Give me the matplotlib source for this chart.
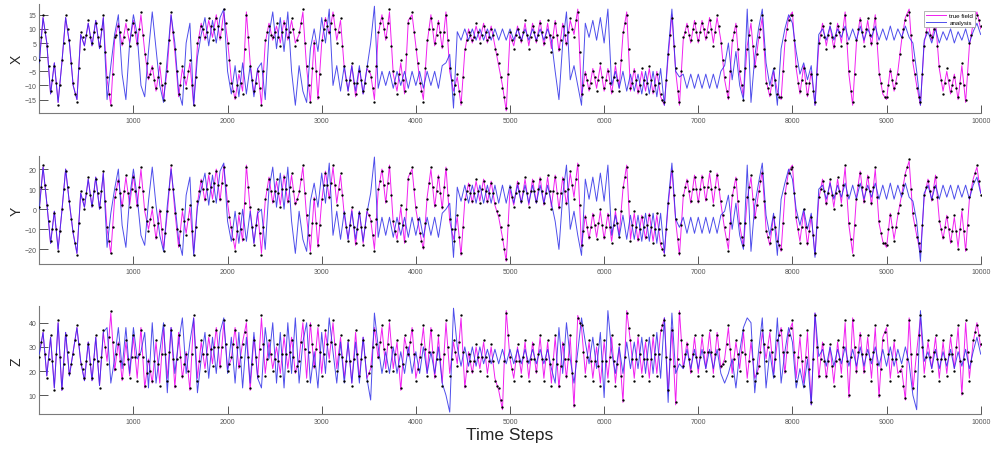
import numpy as np
import matplotlib
matplotlib.use("Agg")
import matplotlib.pyplot as plt

plt.rcParams['font.family'] = ['Liberation Sans', 'DejaVu Sans']

STEP = 40  # time steps between listed samples

x_true = [-2, 14, 5, -13, -2, -16, -2, 14, 5, -10, -15, 8, 4, 12, 4, 13, 3, 14, -8, -17, 6, 12, 4, 12, 5,
          13, 4, 15, 2, -8, -3, -12, -3, -15, -4, 15, 2, -14, -4, -10, -2, -17, 4, 12, 6, 13, 7, 15, 6, 16,
          6, -8, -15, -6, -12, 16, -2, -13, -4, -17, 5, 12, 6, 11, 5, 13, 6, 13, 5, 8, 16, -4, -16, 6, -15,
          5, 14, 8, 16, 6, 13, -4, -12, -3, -14, -4, -13, -4, -6, -15, 8, 15, 6, 16, -6, -12, -2, -13, 13, 15,
          4, -8, -15, 5, 15, 4, 13, 3, 16, -5, -12, -7, -17, 2, 10, 5, 11, 6, 12, 5, 11, 4, -3, -10, -19,
          8, 4, 11, 5, 12, 4, 12, 5, 13, 4, 12, 3, 13, 2, 12, 4, 13, 8, 17, -14, -5, -12, -4, -11, -3,
          -12, -4, -13, -3, -11, 8, 16, -12, -4, -13, -5, -12, -4, -13, -5, -14, -17, 0, 15, -5, -17, 6, 12, 5, 13,
          5, 13, 6, 14, 5, 14, 6, -8, -15, 5, 12, -6, -14, 4, 12, -4, 6, 14, -8, -14, -5, -12, -15, 5, 14,
          16, -4, -13, -3, -14, -5, -17, 4, 12, 4, 11, 3, 12, 5, 16, -6, -17, 5, 14, 5, 13, 4, 15, -5, -13,
          -15, -4, -12, -5, 6, 14, 17, -2, -10, -17, 5, 12, 6, 13, -4, -12, -5, -13, -6, -15, -3, -16, 4, 12, 16, 10]

x_analysis = [-2, 14, 5, -13, -2, -16, -2, 14, 5, -10, -15, 8, 4, 12, 4, 13, 3, 14, -15, -3, 8, 15, -6, -15, 5,
              15, 8, -10, -14, 2, 16, 3, -10, -16, 0, 15, 5, -12, -17, 5, 12, -17, 0, 8, 14, 4, 13, 5, 14, 17,
              -5, -13, -3, -14, -2, -13, -3, -14, -4, -2, -15, 8, 16, 3, 14, 2, 16, -5, -17, -3, -12, -16, 3, 10, 2,
              14, 5, 17, -10, -3, -12, -3, -12, -3, -12, -3, -13, -4, 5, 18, -11, -5, -10, -5, -11, -5, -10, -5, -11, -5,
              -10, -5, -11, -5, -10, -5, -11, -3, -2, 1, -18, 9, 6, 10, 6, 10, 6, 10, 6, 10, 6, 10, 6, 10, 6,
              10, 6, 10, 6, 10, 6, 10, 6, 10, 6, 10, 6, -5, -15, 5, 16, -8, -3, -10, -17, 12, 7, 13, 6, 14,
              5, 17, -10, -5, -11, -5, -12, -6, -12, -6, -13, -5, -13, -5, -14, -4, -17, 2, 17, -5, -7, -6, -11, -6, -11,
              -6, -11, -6, -11, -6, -11, -5, -3, 5, -8, 2, -10, -15, 17, -16, 0, 10, 17, -2, -10, -4, -17, 3, 10, 15,
              12, 2, -6, -2, -8, -3, -17, 8, 10, 6, 11, 6, 10, 7, 11, 6, 10, 6, 11, 6, 10, 7, 11, 6, 10,
              6, 11, 6, 10, 7, 11, 7, 5, -5, -17, 6, 9, 5, 10, 5, 9, 6, 10, 5, 9, 6, 10, 5, 9, 12, 8]

x_obs = [-1, 15, 4, -12, -3, -17, -1, 15, 6, -9, -16, 9, 3, 13, 5, 12, 4, 15, -7, -17, 7, 11, 5, 13, 4,
         12, 5, 16, 1, -7, -4, -11, -2, -15, -5, 16, 3, -13, -3, -11, -1, -17, 5, 11, 7, 14, 6, 14, 7, 17,
         5, -9, -14, -5, -13, 15, -3, -12, -5, -17, 6, 11, 7, 12, 4, 12, 7, 14, 4, 9, 17, -3, -16, 5, -14,
         6, 13, 9, 15, 5, 14, -3, -13, -2, -13, -5, -12, -3, -7, -16, 9, 14, 7, 17, -5, -13, -1, -12, 12, 16,
         3, -9, -16, 6, 14, 5, 12, 4, 15, -4, -13, -6, -16, 3, 9, 6, 12, 5, 11, 6, 10, 3, -2, -11, -18,
         9, 3, 10, 6, 13, 3, 11, 6, 12, 5, 13, 2, 12, 3, 11, 5, 14, 7, 16, -13, -6, -11, -5, -12, -2,
         -11, -5, -12, -2, -12, 9, 15, -11, -5, -12, -4, -13, -3, -12, -6, -13, -16, 1, 14, -4, -16, 7, 11, 6, 12,
         6, 12, 7, 13, 4, 15, 5, -7, -14, 6, 11, -5, -15, 3, 13, -3, 7, 15, -9, -13, -4, -13, -14, 6, 13,
         15, -3, -12, -4, -13, -6, -16, 5, 11, 3, 12, 4, 11, 4, 15, -5, -16, 6, 13, 4, 14, 5, 14, -6, -12,
         -14, -5, -11, -6, 7, 13, 16, -1, -11, -16, 4, 13, 7, 12, -3, -13, -4, -12, -7, -14, -2, -15, 5, 11, 15, 11]

x_obs_mid = [7, 9, -3, -8, -9, -10, 5, 10, -2, -13, -4, 7, 8, 7, 9, 7, 10, 2, -13, -6, 8, 9, 7, 10, 8,
             9, 10, 8, -2, -6, -8, -7, -10, -9, 6, 9, -5, -10, -7, -5, -10, -7, 7, 10, 9, 11, 10, 11, 10, 12,
             -1, -12, -10, -9, 3, 7, -8, -9, -11, -5, 9, 8, 9, 7, 9, 10, 9, 10, 6, 12, 5, -10, -4, -5, -6,
             10, 11, 12, 10, 9, 4, -8, -8, -9, -9, -8, -9, -5, -11, -3, 12, 10, 12, 4, -9, -6, -8, 1, 14, 9,
             -2, -12, -4, 10, 10, 8, 9, 9, 6, -8, -10, -12, -7, 6, 8, 7, 9, 8, 9, 7, 8, 1, -7, -14, -6,
             6, 8, 7, 9, 8, 7, 9, 8, 9, 7, 8, 7, 8, 6, 8, 9, 10, 13, 2, -10, -8, -9, -7, -8, -7,
             -8, -9, -7, -8, -1, 12, 3, -9, -8, -10, -8, -9, -8, -10, -9, -15, -8, 8, 4, -12, -5, 9, 8, 10, 9,
             9, 10, 9, 10, 9, 11, -1, -12, -5, 9, 3, -10, -4, 8, 4, 1, 10, 3, -11, -10, -8, -14, -5, 10, 15,
             6, -9, -8, -9, -9, -12, -6, 8, 7, 8, 7, 8, 9, 10, 5, -12, -6, 10, 9, 10, 8, 10, 5, -9, -14,
             -10, -8, -9, 1, 10, 15, 8, -6, -14, -6, 9, 8, 10, 4, -8, -9, -8, -10, -11, -9, -10, -6, 8, 14, 13]

y_true = [0, 21, 3, -17, -1, -20, -1, 20, 3, -12, -22, 8, 1, 15, 1, 16, 0, 18, -10, -22, 5, 15, 1, 16, 2,
          17, 1, 20, -1, -10, 0, -15, 0, -20, -2, 21, -1, -19, -1, -12, 1, -22, 3, 15, 4, 17, 5, 20, 4, 22,
          3, -10, -20, -3, -16, 22, 0, -17, -1, -22, 4, 16, 3, 14, 2, 17, 3, 17, 2, 8, 21, -4, -21, 6, -19,
          4, 19, 5, 21, 3, 17, -3, -15, 0, -18, -1, -17, -1, -5, -20, 9, 20, 3, 22, -7, -15, 1, -17, 16, 20,
          0, -11, -20, 6, 20, 1, 17, 0, 21, -6, -15, -4, -23, 4, 13, 3, 14, 4, 15, 3, 14, 2, -4, -14, -26,
          10, 2, 14, 3, 15, 2, 15, 3, 16, 2, 16, 1, 17, 0, 16, 2, 18, 6, 23, -19, -3, -15, -2, -14, -1,
          -15, -2, -16, -1, -13, 10, 22, -15, -2, -16, -3, -15, -2, -16, -3, -18, -22, 2, 20, -6, -23, 6, 15, 3, 17,
          3, 17, 4, 18, 3, 18, 3, -10, -20, 6, 16, -8, -19, 5, 16, -5, 8, 19, -10, -18, -3, -15, -21, 7, 19,
          22, -5, -16, -1, -18, -3, -23, 5, 15, 2, 14, 1, 15, 3, 21, -8, -22, 6, 19, 3, 17, 2, 20, -7, -16,
          -19, -2, -15, -3, 7, 18, 24, -3, -13, -22, 6, 15, 4, 17, -5, -15, -3, -17, -4, -19, -1, -21, 5, 15, 21, 8]

y_analysis = [0, 21, 3, -17, -1, -20, -1, 20, 3, -12, -22, 8, 1, 15, 1, 16, 0, 18, -19, -2, 10, 20, -8, -19, 6,
              20, 6, -13, -18, 4, 21, 2, -13, -21, 2, 20, 3, -15, -23, 7, 16, -23, 1, 10, 18, 2, 17, 3, 19, 23,
              -6, -16, -1, -17, 0, -16, -1, -17, -2, 0, -20, 10, 21, 1, 18, 0, 21, -6, -22, -1, -15, -21, 4, 13, 1,
              18, 3, 23, -13, -1, -15, -1, -15, -1, -15, -1, -16, -2, 8, 26, -14, -4, -13, -4, -14, -4, -13, -4, -14, -4,
              -13, -4, -14, -4, -13, -4, -14, -2, 0, 3, -24, 11, 4, 12, 3, 12, 3, 12, 3, 12, 3, 12, 3, 12, 3,
              12, 3, 12, 3, 12, 3, 12, 3, 12, 3, 12, 3, -6, -20, 7, 22, -10, -1, -13, -23, 15, 5, 16, 4, 18,
              4, 22, -13, -3, -14, -3, -15, -3, -15, -3, -16, -2, -16, -2, -17, -2, -22, 4, 23, -5, -9, -4, -12, -4, -12,
              -4, -12, -4, -12, -4, -12, -3, -1, 7, -10, 3, -13, -20, 22, -21, 2, 13, 23, -3, -13, -2, -23, 5, 13, 20,
              15, 0, -8, 0, -10, -2, -24, 10, 12, 5, 13, 5, 12, 6, 13, 5, 12, 5, 13, 5, 12, 6, 13, 5, 12,
              5, 13, 5, 12, 6, 13, 6, 4, -6, -26, 8, 12, 5, 12, 5, 12, 6, 12, 5, 12, 6, 12, 5, 12, 16, 8]

y_obs = [1, 22, 2, -16, -2, -21, 0, 19, 4, -11, -23, 9, 0, 16, 2, 15, 1, 19, -9, -22, 6, 14, 2, 17, 1,
         16, 2, 21, 0, -11, 1, -14, -1, -21, -1, 22, -2, -18, 0, -13, 2, -23, 4, 14, 5, 18, 4, 19, 5, 21,
         4, -9, -21, -2, -15, 21, 1, -18, 0, -23, 5, 15, 4, 15, 1, 16, 4, 18, 3, 9, 22, -3, -22, 5, -18,
         5, 18, 6, 22, 2, 18, -2, -16, 1, -17, -2, -18, 0, -6, -21, 10, 19, 4, 21, -6, -16, 2, -16, 15, 21,
         1, -12, -19, 5, 21, 2, 16, 1, 20, -5, -16, -3, -22, 5, 12, 4, 15, 3, 14, 4, 13, 3, -3, -15, -25,
         11, 1, 13, 4, 16, 1, 14, 4, 15, 3, 17, 0, 16, 1, 15, 3, 19, 5, 22, -18, -4, -14, -3, -15, 0,
         -14, -3, -17, 0, -14, 11, 21, -16, -1, -15, -4, -14, -3, -17, -2, -17, -23, 3, 19, -5, -22, 7, 14, 4, 16,
         4, 16, 5, 19, 2, 17, 4, -9, -21, 7, 15, -7, -18, 6, 17, -4, 9, 18, -11, -17, -4, -16, -20, 8, 18,
         21, -4, -17, 0, -17, -4, -22, 6, 14, 3, 15, 0, 16, 2, 22, -7, -23, 5, 18, 4, 16, 3, 21, -6, -17,
         -18, -3, -16, -2, 8, 17, 25, -2, -14, -21, 7, 14, 5, 16, -6, -14, -4, -16, -3, -20, 0, -20, 6, 14, 22, 7]

y_obs_mid = [11, 12, -6, -10, -10, -11, 10, 11, -5, -17, -7, 5, 8, 7, 9, 8, 9, 4, -16, -9, 10, 8, 9, 8, 10,
             9, 11, 9, -6, -5, -8, -7, -10, -12, 10, 10, -10, -11, -6, -5, -11, -9, 9, 10, 10, 11, 13, 12, 13, 12,
             -4, -15, -11, -10, 3, 11, -9, -8, -12, -9, 10, 9, 9, 8, 10, 10, 11, 9, 5, 15, 8, -13, -7, -7, -8,
             12, 12, 13, 12, 10, 7, -9, -8, -9, -10, -9, -9, -3, -13, -5, 14, 12, 13, 7, -11, -7, -8, 0, 18, 10,
             -5, -16, -7, 13, 11, 9, 8, 11, 7, -10, -10, -14, -9, 9, 8, 8, 9, 10, 9, 8, 8, -1, -9, -20, -8,
             6, 8, 9, 9, 8, 9, 9, 10, 9, 8, 9, 9, 8, 8, 9, 10, 12, 15, 2, -11, -9, -9, -8, -7, -8,
             -9, -9, -8, -7, -1, 16, 4, -8, -9, -10, -9, -8, -9, -10, -10, -20, -10, 11, 7, -15, -8, 11, 9, 10, 10,
             10, 11, 11, 10, 11, 10, -3, -15, -7, 11, 4, -14, -7, 11, 5, 2, 14, 4, -14, -10, -9, -18, -7, 13, 20,
             8, -10, -9, -9, -11, -13, -9, 10, 9, 8, 7, 8, 9, 12, 7, -15, -8, 12, 11, 10, 9, 11, 6, -12, -17,
             -10, -9, -9, 2, 12, 21, 10, -8, -17, -8, 11, 9, 11, 6, -10, -9, -10, -11, -11, -10, -11, -8, 10, 18, 14]

z_true = [27, 36, 18, 34, 13, 40, 12, 36, 18, 28, 38, 24, 16, 32, 16, 34, 14, 36, 24, 44, 20, 32, 16, 32, 18,
          34, 17, 38, 13, 25, 15, 32, 15, 38, 17, 38, 13, 36, 17, 28, 12, 42, 17, 32, 21, 34, 23, 38, 21, 40,
          21, 25, 38, 21, 32, 40, 12, 34, 17, 42, 19, 32, 21, 30, 19, 34, 21, 34, 19, 25, 40, 17, 40, 21, 38,
          19, 36, 25, 40, 21, 34, 17, 32, 15, 36, 17, 34, 17, 21, 38, 25, 38, 21, 40, 21, 32, 12, 34, 26, 38,
          17, 25, 38, 19, 38, 17, 34, 15, 40, 19, 32, 23, 42, 13, 28, 19, 30, 21, 32, 19, 30, 17, 12, 4, 45,
          25, 17, 30, 19, 32, 17, 32, 19, 34, 17, 32, 15, 34, 13, 32, 17, 34, 5, 43, 38, 19, 32, 17, 30, 15,
          32, 17, 34, 15, 30, 7, 45, 32, 17, 34, 19, 32, 17, 34, 19, 36, 42, 11, 38, 6, 45, 21, 32, 19, 34,
          19, 34, 21, 36, 19, 36, 21, 25, 38, 19, 32, 21, 36, 17, 32, 17, 21, 36, 25, 36, 19, 32, 38, 19, 36,
          40, 17, 34, 15, 36, 6, 44, 17, 32, 17, 30, 15, 32, 19, 40, 9, 42, 19, 36, 19, 34, 17, 38, 9, 34,
          38, 17, 32, 19, 21, 8, 42, 12, 28, 42, 19, 32, 21, 34, 17, 32, 19, 34, 21, 38, 10, 40, 17, 32, 40, 30]

z_analysis = [27, 36, 18, 34, 13, 40, 12, 36, 18, 28, 38, 24, 16, 32, 16, 34, 14, 36, 38, 15, 25, 38, 21, 38, 19,
              38, 25, 28, 36, 13, 40, 15, 28, 40, 11, 38, 19, 32, 42, 19, 32, 42, 11, 25, 36, 17, 34, 19, 36, 42,
              19, 34, 15, 36, 13, 34, 15, 36, 17, 13, 38, 25, 40, 15, 36, 13, 40, 19, 42, 15, 32, 40, 15, 28, 13,
              36, 19, 42, 28, 15, 32, 15, 32, 15, 32, 15, 34, 17, 8, 44, 30, 19, 28, 19, 30, 19, 28, 19, 30, 19,
              28, 19, 30, 19, 28, 19, 30, 15, 10, 3, 46, 30, 22, 30, 22, 30, 22, 30, 23, 29, 23, 29, 23, 29, 23,
              29, 23, 29, 23, 29, 23, 29, 23, 29, 23, 29, 21, 15, 38, 19, 40, 25, 15, 28, 42, 32, 23, 34, 21, 36,
              9, 45, 28, 19, 30, 19, 32, 21, 32, 21, 34, 19, 34, 19, 36, 17, 42, 7, 44, 19, 23, 21, 29, 21, 29,
              21, 29, 21, 29, 21, 29, 19, 15, 19, 25, 13, 28, 38, 42, 40, 11, 28, 42, 13, 28, 17, 42, 15, 28, 38,
              32, 13, 21, 13, 25, 6, 44, 26, 29, 22, 30, 22, 29, 23, 30, 22, 29, 22, 30, 22, 29, 23, 30, 22, 29,
              22, 30, 22, 29, 23, 30, 23, 10, 4, 45, 24, 28, 21, 29, 21, 28, 22, 29, 21, 28, 22, 29, 21, 28, 34, 27]

z_obs = [26, 37, 17, 35, 12, 41, 13, 35, 19, 27, 39, 23, 17, 31, 17, 35, 13, 37, 23, 45, 21, 31, 17, 33, 17,
         35, 16, 37, 14, 24, 16, 33, 14, 39, 16, 37, 14, 35, 18, 27, 13, 43, 16, 33, 20, 35, 22, 37, 22, 41,
         20, 26, 37, 22, 31, 41, 13, 33, 18, 43, 18, 33, 20, 31, 18, 35, 20, 33, 20, 24, 41, 16, 39, 22, 39,
         18, 37, 24, 41, 20, 35, 16, 33, 14, 37, 18, 33, 16, 22, 37, 26, 39, 20, 41, 20, 33, 13, 35, 27, 37,
         16, 26, 39, 18, 37, 18, 35, 14, 41, 18, 33, 22, 43, 14, 27, 20, 31, 20, 33, 18, 31, 16, 13, 5, 44,
         26, 16, 31, 18, 33, 16, 31, 20, 35, 16, 33, 14, 35, 14, 31, 18, 35, 6, 42, 39, 18, 33, 16, 31, 14,
         33, 16, 35, 14, 31, 8, 44, 33, 16, 35, 18, 33, 16, 35, 18, 37, 41, 12, 37, 7, 44, 22, 31, 20, 35,
         18, 35, 20, 37, 18, 35, 22, 24, 39, 18, 33, 20, 37, 16, 33, 16, 22, 37, 24, 37, 18, 33, 37, 20, 35,
         41, 16, 35, 14, 37, 7, 43, 18, 31, 18, 31, 14, 33, 18, 41, 10, 41, 20, 35, 20, 35, 16, 39, 10, 33,
         39, 16, 33, 18, 22, 9, 41, 13, 27, 43, 18, 33, 20, 35, 16, 33, 18, 35, 20, 39, 11, 41, 16, 33, 39, 31]

z_obs_mid = [32, 27, 25, 24, 27, 26, 23, 28, 23, 33, 31, 21, 24, 23, 25, 24, 26, 30, 34, 32, 27, 24, 23, 25, 26,
             26, 27, 26, 19, 20, 24, 23, 27, 27, 28, 25, 25, 26, 23, 20, 27, 30, 24, 27, 27, 29, 30, 30, 30, 31,
             23, 31, 30, 26, 36, 26, 23, 26, 29, 31, 25, 27, 25, 24, 27, 27, 28, 26, 22, 32, 29, 28, 31, 29, 28,
             27, 31, 32, 31, 27, 26, 24, 24, 25, 27, 25, 26, 19, 30, 31, 32, 29, 31, 30, 27, 22, 23, 30, 32, 27,
             21, 31, 29, 28, 28, 25, 25, 27, 30, 25, 28, 32, 28, 20, 24, 24, 26, 26, 26, 24, 24, 14, 8, 24, 35,
             21, 24, 24, 26, 24, 25, 25, 27, 25, 25, 23, 25, 23, 22, 25, 25, 19, 24, 40, 28, 26, 24, 24, 22, 24,
             24, 26, 24, 23, 18, 26, 38, 25, 25, 27, 25, 25, 25, 27, 27, 39, 26, 25, 22, 25, 33, 27, 25, 27, 26,
             26, 28, 28, 28, 27, 29, 23, 31, 29, 25, 27, 28, 27, 24, 25, 19, 28, 31, 30, 28, 25, 35, 28, 28, 38,
             28, 26, 24, 26, 21, 25, 30, 25, 24, 24, 22, 24, 25, 30, 24, 26, 30, 28, 27, 27, 25, 28, 23, 21, 36,
             27, 25, 25, 20, 14, 25, 27, 20, 35, 30, 26, 26, 28, 25, 25, 25, 27, 27, 30, 24, 25, 28, 24, 36, 35]

panel_names = ['X', 'Y', 'Z']
x_ticks = [1000, 2000, 3000, 4000, 5000, 6000, 7000, 8000, 9000, 10000]
y_ticks = [[-15, -10, -5, 0, 5, 10, 15], [-20, -10, 0, 10, 20], [10, 20, 30, 40]]

TRUE_C = '#f020f0'
ANAL_C = '#2f2fe8'
AX_C = '#7a7a7a'
TXT_C = '#262626'

fig = plt.figure(figsize=(9.92, 4.52), dpi=100)
positions = [[0.0396, 0.748, 0.949, 0.241],
             [0.0396, 0.4137, 0.949, 0.238],
             [0.0396, 0.0812, 0.949, 0.239]]
limits = [(-19.7, 18.8), (-27.3, 26.3), (2.1, 46.8)]
series = [(x_true, x_analysis, x_obs, x_obs_mid),
          (y_true, y_analysis, y_obs, y_obs_mid),
          (z_true, z_analysis, z_obs, z_obs_mid)]

axes = []
for i, (pos, (tr, an, ob, obm)) in enumerate(zip(positions, series)):
    ax = fig.add_axes(pos)
    t_tr = np.arange(len(tr)) * STEP
    t_an = np.arange(len(an)) * STEP
    t_ob = np.arange(len(ob)) * STEP
    t_obm = np.arange(len(obm)) * STEP + STEP // 2
    ax.plot(t_tr, tr, color=TRUE_C, lw=0.7, label='true field', zorder=2)
    ax.plot(t_an, an, color=ANAL_C, lw=0.7, alpha=0.85, label='analysis', zorder=3)
    ax.plot(t_ob, ob, linestyle='none', marker='o', ms=1.7, mew=0, color='black', zorder=4)
    ax.plot(t_obm, obm, linestyle='none', marker='o', ms=1.7, mew=0, color='black', zorder=4)
    ax.set_xlim(0, 10000)
    ax.set_ylim(*limits[i])
    ax.set_xticks(x_ticks)
    ax.set_yticks(y_ticks[i])
    for s in ['top', 'right']:
        ax.spines[s].set_visible(False)
    for s in ['left', 'bottom']:
        ax.spines[s].set_color(AX_C)
        ax.spines[s].set_linewidth(0.8)
    ax.tick_params(axis='both', direction='in', width=0.7, colors='#555555',
                   labelsize=5, labelcolor='#555555')
    ax.tick_params(axis='x', length=5.8, pad=3)
    ax.tick_params(axis='y', length=6.5, pad=2)
    ax.set_ylabel(panel_names[i], fontsize=10, color=TXT_C)
    ax.yaxis.set_label_coords(-0.017, 0.5)
    axes.append(ax)

axes[2].set_xlabel('Time Steps', fontsize=12.5, color=TXT_C)
axes[2].xaxis.set_label_coords(0.5, -0.12)

leg = axes[0].legend(loc='upper right', bbox_to_anchor=(0.994, 0.936), borderaxespad=0,
                     fontsize=4.5, handlelength=3.2, frameon=True, fancybox=False,
                     framealpha=1, edgecolor='#999999', borderpad=0.3, labelspacing=0.2,
                     handletextpad=0.5)
leg.get_frame().set_linewidth(0.5)

fig.savefig('out.png', dpi=100)
